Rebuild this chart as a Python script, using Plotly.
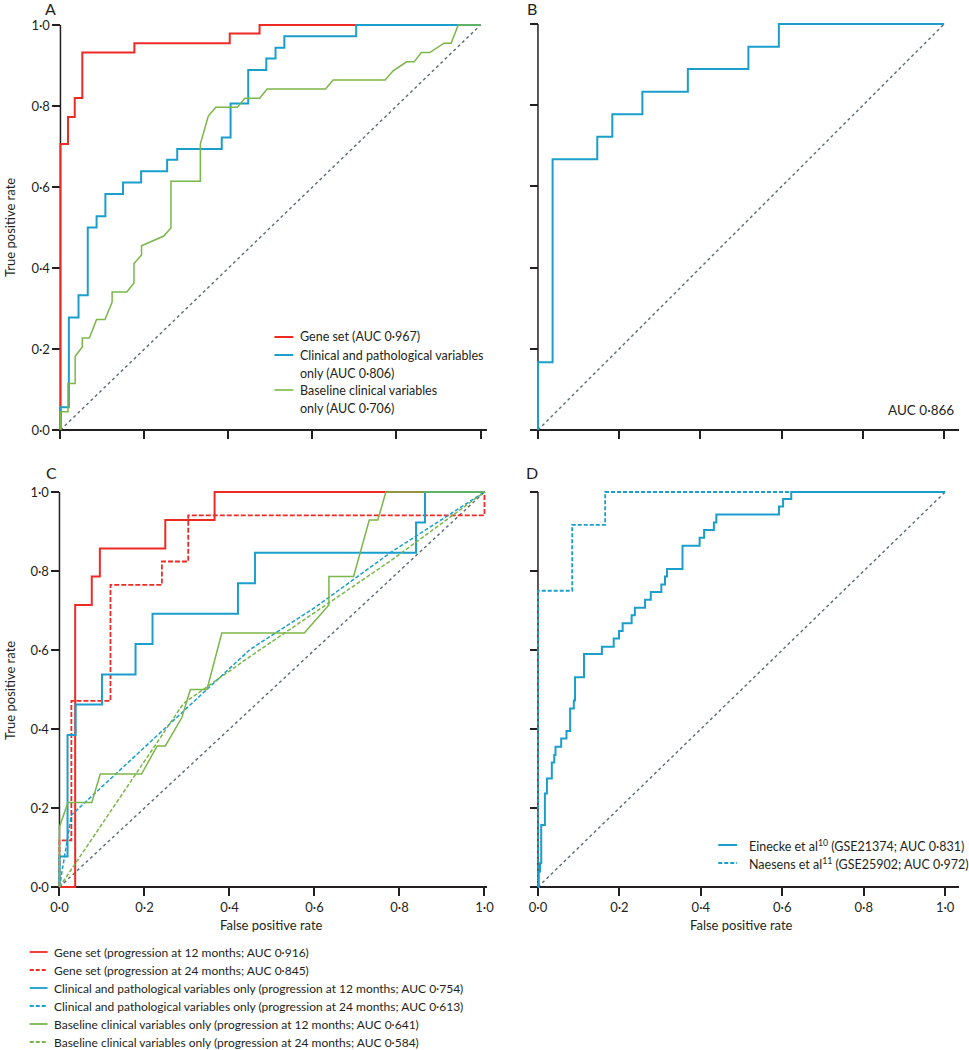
import plotly.graph_objects as go

# ---------------- DATA ----------------
TICKS = [0, 0.2, 0.4, 0.6, 0.8, 1.0]
TICK_TEXT = ["0·0", "0·2", "0·4", "0·6", "0·8", "1·0"]

# Panel A (step curves use ROC corner points, drawn 'hv')
A_GENE_X = [0, 0, 0.018, 0.034, 0.052, 0.176, 0.403, 0.474, 1.0]
A_GENE_Y = [0, 0.706, 0.773, 0.820, 0.932, 0.955, 0.979, 1.0, 1.0]
A_CLIN_X = [0, 0, 0.020, 0.043, 0.065, 0.086, 0.107, 0.149, 0.192, 0.254, 0.278,
            0.384, 0.405, 0.447, 0.490, 0.512, 0.533, 0.704, 1.0]
A_CLIN_Y = [0, 0.056, 0.278, 0.333, 0.500, 0.528, 0.583, 0.611, 0.639, 0.667, 0.694,
            0.722, 0.806, 0.889, 0.917, 0.944, 0.972, 1.0, 1.0]
A_BASE_X = [0, 0, 0.018, 0.018, 0.035, 0.035, 0.052, 0.052, 0.069, 0.086, 0.106,
            0.123, 0.123, 0.158, 0.175, 0.175, 0.193, 0.193, 0.246, 0.263, 0.263,
            0.333, 0.333, 0.352, 0.370, 0.421, 0.439, 0.474, 0.492, 0.631, 0.649,
            0.773, 0.792, 0.824, 0.842, 0.859, 0.879, 0.913, 0.930, 0.947, 1.0]
A_BASE_Y = [0, 0.045, 0.045, 0.115, 0.115, 0.182, 0.205, 0.227, 0.227, 0.273, 0.273,
            0.316, 0.341, 0.341, 0.363, 0.411, 0.432, 0.455, 0.479, 0.499, 0.614,
            0.614, 0.706, 0.775, 0.797, 0.797, 0.819, 0.819, 0.842, 0.842, 0.864,
            0.864, 0.887, 0.909, 0.909, 0.932, 0.932, 0.955, 0.955, 1.0, 1.0]

# Panel B
B_X = [0, 0, 0.036, 0.146, 0.183, 0.257, 0.369, 0.518, 0.593, 1.0]
B_Y = [0, 0.167, 0.667, 0.722, 0.778, 0.833, 0.889, 0.944, 1.0, 1.0]

# Panel C
C_GENE12_X = [0, 0.037, 0.076, 0.095, 0.249, 0.365, 1.0]
C_GENE12_Y = [0, 0.714, 0.786, 0.857, 0.929, 1.0, 1.0]
C_GENE24_X = [0, 0, 0.028, 0.120, 0.241, 0.303, 1.0, 1.0]
C_GENE24_Y = [0, 0.118, 0.471, 0.765, 0.824, 0.941, 0.941, 1.0]
C_CLIN12_X = [0, 0, 0.019, 0.038, 0.100, 0.179, 0.219, 0.420, 0.460, 0.839, 0.860, 1.0]
C_CLIN12_Y = [0, 0.077, 0.385, 0.462, 0.538, 0.615, 0.692, 0.769, 0.846, 0.923, 1.0, 1.0]
C_CLIN24_X = [0, 0.028, 0.448, 0.603, 0.782, 1.0]
C_CLIN24_Y = [0, 0.182, 0.601, 0.709, 0.849, 1.0]
C_BASE12_X = [0, 0, 0.020, 0.076, 0.096, 0.193, 0.230, 0.249, 0.288, 0.308, 0.347,
              0.382, 0.576, 0.634, 0.634, 0.692, 0.729, 0.749, 0.768, 1.0]
C_BASE12_Y = [0, 0.152, 0.214, 0.214, 0.286, 0.286, 0.357, 0.357, 0.429, 0.500, 0.500,
              0.643, 0.643, 0.714, 0.786, 0.786, 0.929, 0.929, 1.0, 1.0]
C_BASE24_X = [0, 0.292, 0.448, 0.782, 1.0]
C_BASE24_Y = [0, 0.465, 0.583, 0.828, 1.0]

# Panel D
D_EIN_X = [0, 0.002, 0.005, 0.008, 0.017, 0.022, 0.034, 0.040, 0.043, 0.057, 0.070,
           0.079, 0.088, 0.091, 0.113, 0.157, 0.186, 0.199, 0.208, 0.230, 0.238,
           0.263, 0.277, 0.303, 0.312, 0.317, 0.355, 0.397, 0.408, 0.432, 0.438,
           0.592, 0.602, 0.622, 1.0]
D_EIN_Y = [0, 0.039, 0.060, 0.157, 0.237, 0.275, 0.315, 0.334, 0.355, 0.376, 0.395,
           0.452, 0.472, 0.531, 0.590, 0.608, 0.629, 0.648, 0.668, 0.688, 0.707,
           0.727, 0.747, 0.766, 0.786, 0.805, 0.864, 0.884, 0.904, 0.923, 0.943,
           0.963, 0.982, 1.0, 1.0]
D_NAE_X = [0, 0, 0.084, 0.165, 1.0]
D_NAE_Y = [0, 0.750, 0.917, 1.0, 1.0]

DIAG = [0, 1]

# ---------------- STYLE ----------------
W, H = 969, 1050
RED = "#ee2a24"
BLUE = "#1a9ecb"
GREEN = "#7ab648"
DARK = "#231f20"
GREY = "#5a6a72"
FONT = "Lato"

fig = go.Figure()


def add(x, y, axis, color, width, dash="solid", shape="linear"):
    fig.add_trace(go.Scatter(x=x, y=y, mode="lines", xaxis="x" + axis, yaxis="y" + axis,
                             line=dict(color=color, width=width, dash=dash, shape=shape),
                             showlegend=False, hoverinfo="skip"))


# diagonals first
for ax in ["", "2", "3", "4"]:
    add(DIAG, DIAG, ax, GREY, 1.4, dash="dot")

# A
add(A_GENE_X, A_GENE_Y, "", RED, 2.0, shape="hv")
add(A_CLIN_X, A_CLIN_Y, "", BLUE, 2.0, shape="hv")
add(A_BASE_X, A_BASE_Y, "", GREEN, 1.5)
# B
add(B_X, B_Y, "2", BLUE, 2.0, shape="hv")
# C
add(C_GENE12_X, C_GENE12_Y, "3", RED, 2.0, shape="hv")
add(C_GENE24_X, C_GENE24_Y, "3", RED, 1.8, dash="5px,2px", shape="hv")
add(C_CLIN12_X, C_CLIN12_Y, "3", BLUE, 2.0, shape="hv")
add(C_CLIN24_X, C_CLIN24_Y, "3", BLUE, 1.5, dash="4px,2px")
add(C_BASE12_X, C_BASE12_Y, "3", GREEN, 1.5)
add(C_BASE24_X, C_BASE24_Y, "3", GREEN, 1.5, dash="4px,2px")
# D
add(D_EIN_X, D_EIN_Y, "4", BLUE, 2.0, shape="hv")
add(D_NAE_X, D_NAE_Y, "4", BLUE, 1.8, dash="4px,2px", shape="hv")

# ---------------- AXES ----------------
# pixel geometry: (x at 0, x at 1, x end of axis line, y at 0, y at 1, x labels, y labels)
PANELS = {
    "": (59, 483, 490, 430, 25, False, True),
    "2": (541, 951, 966, 430, 24, False, False),
    "3": (58, 487, 490, 887, 492, True, True),
    "4": (541, 952, 966, 887, 492, True, False),
}
layout_axes = {}
shapes = []
for ax, (x0, x1, xe, y0, y1, xlab, ylab) in PANELS.items():
    sx = x1 - x0
    sy = y0 - y1
    padl = 7
    padv = 8
    xr = [-padl / sx, (xe - x0) / sx]
    yr = [-padv / sy, 1 + padv / sy]
    common = dict(showgrid=False, zeroline=False, ticks="outside", ticklen=8, tickwidth=1.5,
                  tickcolor=DARK, tickvals=TICKS, ticktext=TICK_TEXT, layer="below traces",
                  tickfont=dict(family=FONT, size=13, color=DARK), fixedrange=True)
    layout_axes["xaxis" + ax] = dict(common, domain=[(x0 - padl) / W, xe / W], range=xr,
                                     anchor="free", position=1 - y0 / H, showline=True,
                                     linecolor=DARK, linewidth=1.5, showticklabels=xlab,
                                     ticklabelstandoff=1)
    layout_axes["yaxis" + ax] = dict(common, domain=[1 - (y0 + padv) / H, 1 - (y1 - padv) / H],
                                     range=yr, anchor="free", position=x0 / W, showline=False,
                                     showticklabels=ylab)
    shapes.append(dict(type="line", xref="paper", yref="paper", x0=x0 / W, x1=x0 / W,
                       y0=1 - y0 / H, y1=1 - y1 / H, line=dict(color=DARK, width=1.5),
                       layer="below"))

annotations = []


def text(px, py, s, size=12, xanchor="left", angle=0):
    annotations.append(dict(x=px / W, y=1 - py / H, xref="paper", yref="paper", text=s,
                            showarrow=False, xanchor=xanchor, yanchor="middle",
                            textangle=angle, font=dict(family=FONT, size=size, color=DARK)))


def seg(xa, xb, py, color, dash="solid", width=2):
    shapes.append(dict(type="line", xref="paper", yref="paper", x0=xa / W, x1=xb / W,
                       y0=1 - py / H, y1=1 - py / H, line=dict(color=color, width=width, dash=dash)))


# panel letters
text(49, 9, "A", 16, "center")
text(535, 9, "B", 16, "center")
text(50, 472, "C", 16, "center")
text(535, 472, "D", 16, "center")

# axis titles
text(8, 227, "True positive rate", 13, "center", -90)
text(8, 690, "True positive rate", 13, "center", -90)
text(272, 925, "False positive rate", 13, "center")
text(746, 925, "False positive rate", 13, "center")

# panel B AUC
text(963, 410, "AUC 0·866", 13.5, "right")

# legend A
seg(275, 294, 337, RED)
text(299, 337, "Gene set (AUC 0·967)", 12.5)
seg(275, 294, 355, BLUE)
text(299, 355, "Clinical and pathological variables", 12.5)
text(299, 373, "only (AUC 0·806)", 12.5)
seg(275, 294, 390, GREEN, width=1.6)
text(299, 390, "Baseline clinical variables", 12.5)
text(299, 408, "only (AUC 0·706)", 12.5)

# legend D
seg(723, 742, 845, BLUE)
text(752, 845, "Einecke et al<sup>10</sup> (GSE21374; AUC 0·831)", 12.5)
seg(723, 742, 863, BLUE, dash="4px,2px")
text(752, 863, "Naesens et al<sup>11</sup> (GSE25902; AUC 0·972)", 12.5)

# bottom legend (panel C)
LEG_C = [
    (RED, "solid", "Gene set (progression at 12 months; AUC 0·916)"),
    (RED, "4px,2px", "Gene set (progression at 24 months; AUC 0·845)"),
    (BLUE, "solid", "Clinical and pathological variables only (progression at 12 months; AUC 0·754)"),
    (BLUE, "4px,2px", "Clinical and pathological variables only (progression at 24 months; AUC 0·613)"),
    (GREEN, "solid", "Baseline clinical variables only (progression at 12 months; AUC 0·641)"),
    (GREEN, "4px,2px", "Baseline clinical variables only (progression at 24 months; AUC 0·584)"),
]
for i, (col, dsh, lab) in enumerate(LEG_C):
    yy = 952 + 18 * i
    seg(28, 46, yy, col, dash=dsh, width=1.8)
    text(50, yy, lab, 12)

fig.update_layout(width=W, height=H, autosize=False, margin=dict(l=0, r=0, t=0, b=0),
                  paper_bgcolor="white", plot_bgcolor="white", showlegend=False,
                  shapes=shapes, annotations=annotations, **layout_axes)

fig.write_html("out.html", config={"displayModeBar": False},
               post_script="document.body.style.margin='0';document.body.style.overflow='hidden';")
